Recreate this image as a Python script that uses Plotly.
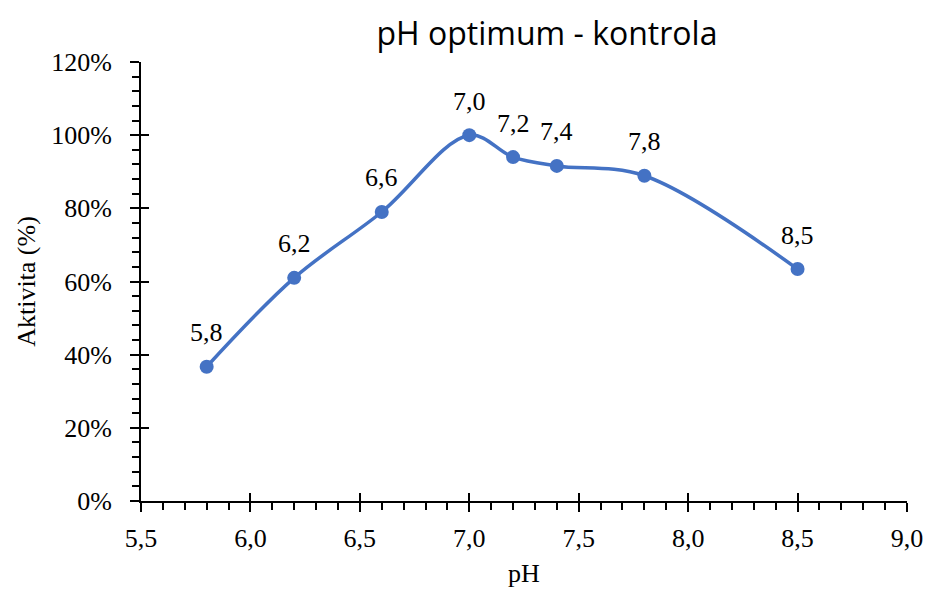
import plotly.graph_objects as go

ph = [5.8, 6.2, 6.6, 7.0, 7.2, 7.4, 7.8, 8.5]
activity = [36.7, 61.0, 79.0, 100.0, 94.0, 91.6, 88.9, 63.4]
point_labels = ["5,8", "6,2", "6,6", "7,0", "7,2", "7,4", "7,8", "8,5"]

title = "pH optimum - kontrola"
x_title = "pH"
y_title = "Aktivita (%)"

blue = "#4472C4"
serif = "Liberation Serif, serif"
fs = 26

fig = go.Figure()
fig.add_trace(go.Scatter(
    x=ph, y=activity, mode="lines+markers",
    line=dict(color=blue, width=3.5, shape="spline", smoothing=1.0),
    marker=dict(color=blue, size=14),
    cliponaxis=False, showlegend=False, hoverinfo="skip",
))
fig.add_trace(go.Scatter(x=[ph[0]], y=[activity[0]], xaxis="x2", yaxis="y2",
                         mode="markers", marker=dict(opacity=0), showlegend=False,
                         hoverinfo="skip"))

for xv, yv, lab in zip(ph, activity, point_labels):
    fig.add_annotation(x=xv, y=yv, text=lab, showarrow=False, yanchor="middle",
                       yshift=34, font=dict(family=serif, size=fs, color="black"))

axis_common = dict(showgrid=False, zeroline=False, linecolor="black", linewidth=2,
                   tickcolor="black", tickwidth=2, automargin=False)

fig.update_layout(
    width=928, height=590,
    margin=dict(l=141, r=21, t=62, b=89),
    plot_bgcolor="white", paper_bgcolor="white",
    separators=",.",
    font=dict(family=serif, size=fs, color="black"),
    title=dict(text=title, xref="paper", x=0.53, xanchor="center", y=0.942, yanchor="middle",
               font=dict(family="Open Sans", size=32, color="black")),
    xaxis=dict(range=[5.5, 9.0], dtick=0.5, tick0=5.5, tickformat=".1f",
               showline=True, ticks="outside", ticklen=9, ticklabelstandoff=4,
               minor=dict(dtick=0.1, ticks="outside", ticklen=7, tickcolor="black", tickwidth=2),
               tickfont=dict(family=serif, size=fs, color="black"),
               title=dict(text=x_title, font=dict(family=serif, size=fs, color="black"), standoff=12),
               **axis_common),
    yaxis=dict(range=[0, 120], dtick=20, ticksuffix="%",
               showline=True, ticks="outside", ticklen=9, ticklabelstandoff=13,
               minor=dict(dtick=4, ticks="outside", ticklen=7, tickcolor="black", tickwidth=2),
               tickfont=dict(family=serif, size=fs, color="black"),
               title=dict(text=y_title, font=dict(family=serif, size=fs, color="black"), standoff=8),
               **axis_common),
    xaxis2=dict(overlaying="x", matches="x", range=[5.5, 9.0], dtick=0.5, tick0=5.5,
                ticks="inside", ticklen=8, showticklabels=False, showline=False,
                showgrid=False, zeroline=False, tickcolor="black", tickwidth=2),
    yaxis2=dict(overlaying="y", matches="y", range=[0, 120], dtick=20,
                ticks="inside", ticklen=8, showticklabels=False, showline=False,
                showgrid=False, zeroline=False, tickcolor="black", tickwidth=2),
)

fig.write_html("out.html")
